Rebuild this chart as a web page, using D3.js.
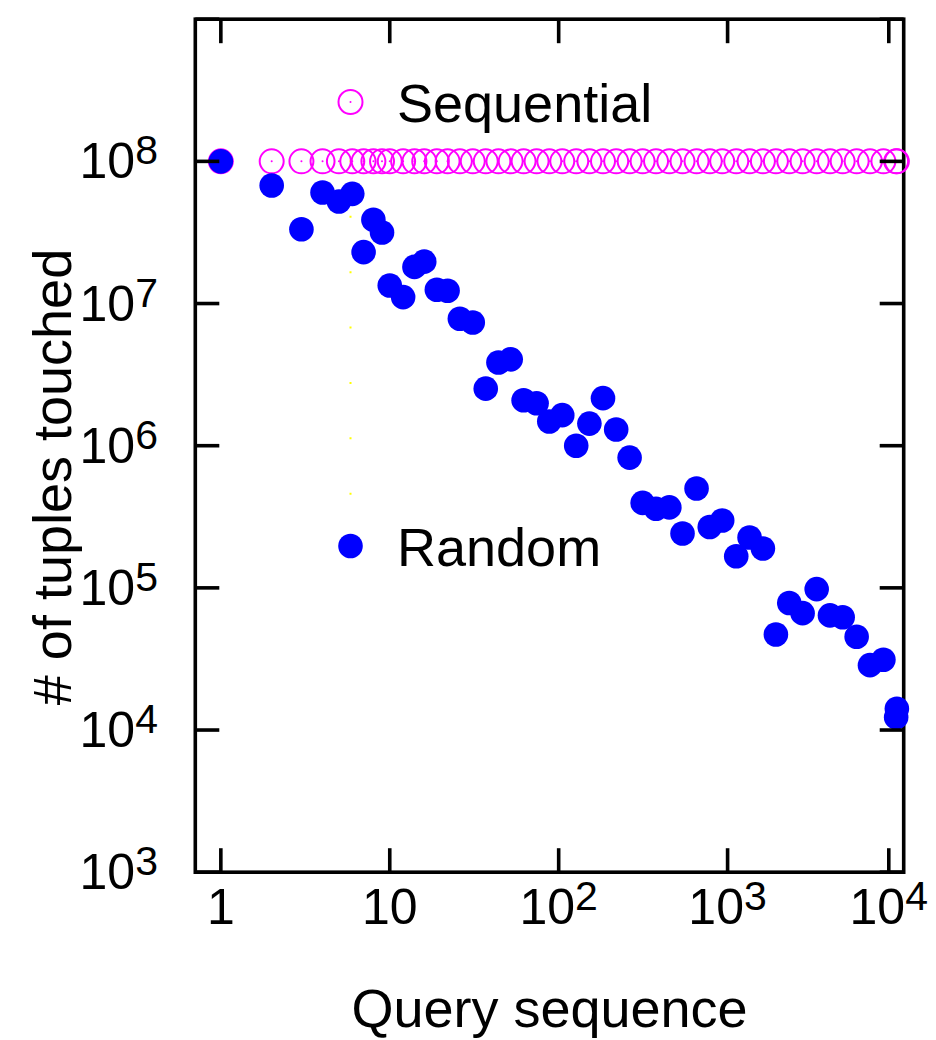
<!DOCTYPE html>
<html>
<head>
<meta charset="utf-8">
<script src="https://cdn.jsdelivr.net/npm/d3@7"></script>
<style>
  html, body { margin: 0; padding: 0; background: #fff; }
  svg { display: block; }
  text { font-family: "Liberation Sans", Arial, Helvetica, sans-serif; fill: #000; }
</style>
</head>
<body>
<svg id="chart" width="936" height="1040"></svg>
<script>
// Query positions in the workload (x axis, log scale)
const queryIndex = [
  1, 2, 3, 4, 5, 6, 7, 8, 9, 10,
  12, 14, 16, 19, 22, 26, 31, 37, 44, 52,
  62, 74, 88, 105, 127, 152, 183, 219, 263, 314,
  377, 452, 541, 655, 784, 929, 1125, 1349, 1618, 1932,
  2318, 2780, 3368, 4038, 4800, 5808, 6966, 8365, 10050, 9950
];

// Tuples touched with a sequential workload
const sequentialTouched = [
  1e8, 1e8, 1e8, 1e8, 1e8, 1e8, 1e8, 1e8, 1e8, 1e8,
  1e8, 1e8, 1e8, 1e8, 1e8, 1e8, 1e8, 1e8, 1e8, 1e8,
  1e8, 1e8, 1e8, 1e8, 1e8, 1e8, 1e8, 1e8, 1e8, 1e8,
  1e8, 1e8, 1e8, 1e8, 1e8, 1e8, 1e8, 1e8, 1e8, 1e8,
  1e8, 1e8, 1e8, 1e8, 1e8, 1e8, 1e8, 1e8, 1e8, 1e8
];

// Tuples touched with a random workload
const randomTouched = [
  1e8, 6.76e7, 3.33e7, 6.04e7, 5.22e7, 5.91e7, 2.30e7, 3.88e7, 3.16e7, 1.34e7,
  1.11e7, 1.81e7, 1.97e7, 1.25e7, 1.23e7, 7.82e6, 7.36e6, 2.52e6, 3.85e6, 4.05e6,
  2.09e6, 1.99e6, 1.48e6, 1.64e6, 1.00e6, 1.43e6, 2.16e6, 1.30e6, 8.25e5, 3.96e5,
  3.60e5, 3.68e5, 2.41e5, 5.0e5, 2.68e5, 2.98e5, 1.67e5, 2.26e5, 1.89e5, 4.7e4,
  7.83e4, 6.64e4, 9.8e4, 6.4e4, 6.22e4, 4.53e4, 2.86e4, 3.12e4, 1.41e4, 1.23e4
];

// Axis ticks: the last x tick sits just inside the right border
const xTickValues = [1, 10, 100, 1000, 9000];
const xTickLabels = [["1", ""], ["10", ""], ["10", "2"], ["10", "3"], ["10", "4"]];
const yTickValues = [1e3, 1e4, 1e5, 1e6, 1e7, 1e8, 1e9];
const yTickLabels = [["10", "3"], ["10", "4"], ["10", "5"], ["10", "6"], ["10", "7"], ["10", "8"], null];

const seriesNames = ["Sequential", "Random"];

const svg = d3.select("#chart");
const plot = { left: 195.3, right: 903.7, top: 19.2, bottom: 872.2 };

const x = d3.scaleLog().domain([0.706, 11030]).range([plot.left, plot.right]);
const y = d3.scaleLog().domain([1e3, 1e9]).range([plot.bottom, plot.top]);

const lw = 3.6;     // border / tick stroke width
const tickLen = 24;
const tickFont = 50;
const titleFont = 54;

// Plot frame
svg.append("rect")
  .attr("x", plot.left).attr("y", plot.top)
  .attr("width", plot.right - plot.left)
  .attr("height", plot.bottom - plot.top)
  .attr("fill", "none").attr("stroke", "#000").attr("stroke-width", lw);

// Faint dotted guide below the legend symbol
svg.append("line")
  .attr("x1", 350.5).attr("x2", 350.5)
  .attr("y1", y(1e8) - 1).attr("y2", 495)
  .attr("stroke", "#ffff00").attr("stroke-width", 2)
  .attr("stroke-dasharray", "2 53.4");

// Sequential: open magenta circles with a centre dot
const seq = queryIndex.map((q, i) => ({ q, v: sequentialTouched[i] }));
const seqG = svg.append("g");
seqG.selectAll("circle.ring").data(seq).join("circle")
  .attr("class", "ring")
  .attr("cx", d => x(d.q)).attr("cy", d => y(d.v)).attr("r", 12)
  .attr("fill", "none").attr("stroke", "#ff00ff").attr("stroke-width", 2);
seqG.selectAll("circle.dot").data(seq).join("circle")
  .attr("class", "dot")
  .attr("cx", d => x(d.q)).attr("cy", d => y(d.v)).attr("r", 1)
  .attr("fill", "#ff00ff");

// Random: filled blue circles
const rnd = queryIndex.map((q, i) => ({ q, v: randomTouched[i] }));
svg.append("g").selectAll("circle").data(rnd).join("circle")
  .attr("cx", d => x(d.q)).attr("cy", d => y(d.v)).attr("r", 12.3)
  .attr("fill", "#0000ff");

// Ticks (inward, on all four sides)
const ticks = svg.append("g").attr("stroke", "#000").attr("stroke-width", lw);
xTickValues.forEach(v => {
  ticks.append("line").attr("x1", x(v)).attr("x2", x(v))
    .attr("y1", plot.bottom).attr("y2", plot.bottom - tickLen);
  ticks.append("line").attr("x1", x(v)).attr("x2", x(v))
    .attr("y1", plot.top).attr("y2", plot.top + tickLen);
});
yTickValues.forEach(v => {
  ticks.append("line").attr("x1", plot.left).attr("x2", plot.left + tickLen)
    .attr("y1", y(v)).attr("y2", y(v));
  ticks.append("line").attr("x1", plot.right).attr("x2", plot.right - tickLen)
    .attr("y1", y(v)).attr("y2", y(v));
});

// Tick labels with superscript exponents
function powLabel(sel, parts) {
  sel.append("tspan").text(parts[0]);
  if (parts[1]) {
    sel.append("tspan").attr("dy", "-0.34em").attr("font-size", "0.82em").text(parts[1]);
  }
}
xTickValues.forEach((v, i) => {
  const t = svg.append("text")
    .attr("x", x(v)).attr("y", 924)
    .attr("text-anchor", "middle").attr("font-size", tickFont);
  powLabel(t, xTickLabels[i]);
});
yTickValues.forEach((v, i) => {
  if (!yTickLabels[i]) return;
  const t = svg.append("text")
    .attr("x", 158).attr("y", y(v) + 17)
    .attr("text-anchor", "end").attr("font-size", tickFont);
  powLabel(t, yTickLabels[i]);
});

// Axis titles
svg.append("text")
  .attr("x", (plot.left + plot.right) / 2).attr("y", 1027)
  .attr("text-anchor", "middle").attr("font-size", titleFont)
  .text("Query sequence");
svg.append("text")
  .attr("transform", "translate(71," + 477 + ") rotate(-90)")
  .attr("text-anchor", "middle").attr("font-size", titleFont)
  .text("# of tuples touched");

// Legend entries
const legend = svg.append("g");
legend.append("circle").attr("cx", 350.5).attr("cy", 102).attr("r", 12)
  .attr("fill", "none").attr("stroke", "#ff00ff").attr("stroke-width", 2);
legend.append("circle").attr("cx", 350.5).attr("cy", 102).attr("r", 1).attr("fill", "#ff00ff");
legend.append("text").attr("x", 397).attr("y", 122)
  .attr("font-size", titleFont).text(seriesNames[0]);
legend.append("circle").attr("cx", 350.5).attr("cy", 546).attr("r", 12.3).attr("fill", "#0000ff");
legend.append("text").attr("x", 397).attr("y", 566)
  .attr("font-size", titleFont).text(seriesNames[1]);
</script>
</body>
</html>
